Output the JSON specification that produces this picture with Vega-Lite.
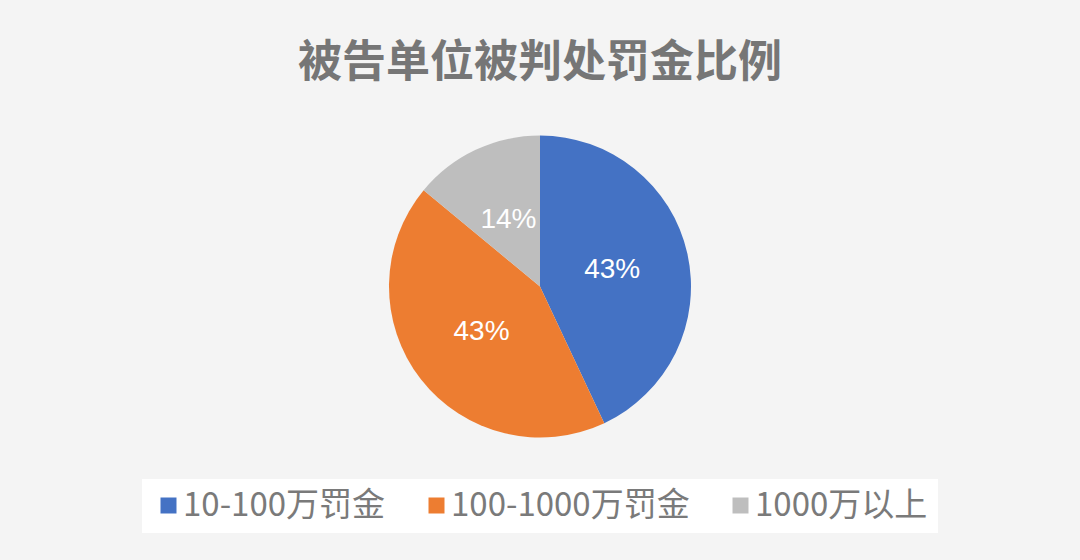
{
  "$schema": "https://vega.github.io/schema/vega-lite/v6.json",
  "autosize": {"type": "fit", "contains": "padding"},
  "width": 1080,
  "height": 560,
  "padding": {"top": 42, "bottom": 73, "left": 0, "right": 0},
  "background": "#f4f4f4",
  "title": {
    "text": "被告单位被判处罚金比例",
    "fontSize": 44,
    "font": "Noto Sans CJK SC",
    "fontWeight": "bold",
    "color": "#767676",
    "anchor": "middle",
    "offset": 0
  },
  "data": {
    "values": [
      {"category": "10-100万罚金", "share": 43, "label": "43%", "rank": 1},
      {"category": "100-1000万罚金", "share": 43, "label": "43%", "rank": 2},
      {"category": "1000万以上", "share": 14, "label": "14%", "rank": 3}
    ]
  },
  "encoding": {
    "theta": {"field": "share", "type": "quantitative", "stack": true},
    "order": {"field": "rank", "type": "quantitative"},
    "color": {
      "field": "category",
      "type": "nominal",
      "sort": ["10-100万罚金", "100-1000万罚金", "1000万以上"],
      "scale": {
        "domain": ["10-100万罚金", "100-1000万罚金", "1000万以上"],
        "range": ["#4472C4", "#ED7D31", "#BEBEBE"]
      },
      "legend": {
        "orient": "none",
        "direction": "horizontal",
        "columns": 3,
        "gridAlign": "none",
        "columnPadding": 34,
        "legendX": 142,
        "legendY": 393,
        "fillColor": "#ffffff",
        "padding": 10,
        "title": null,
        "labelFontSize": 33,
        "labelColor": "#7a7a7a",
        "labelFont": "Noto Sans CJK SC",
        "labelLimit": 500,
        "symbolType": "square",
        "symbolSize": 256,
        "symbolOpacity": 1,
        "symbolStrokeWidth": 0,
        "labelOffset": -2
      }
    }
  },
  "layer": [
    {"mark": {"type": "arc", "outerRadius": 151}},
    {
      "mark": {"type": "text", "radius": 74, "fontSize": 28, "fill": "#ffffff", "font": "Liberation Sans"},
      "encoding": {"text": {"field": "label", "type": "nominal"}, "color": {"value": "#ffffff"}}
    }
  ],
  "config": {"view": {"stroke": null}}
}
